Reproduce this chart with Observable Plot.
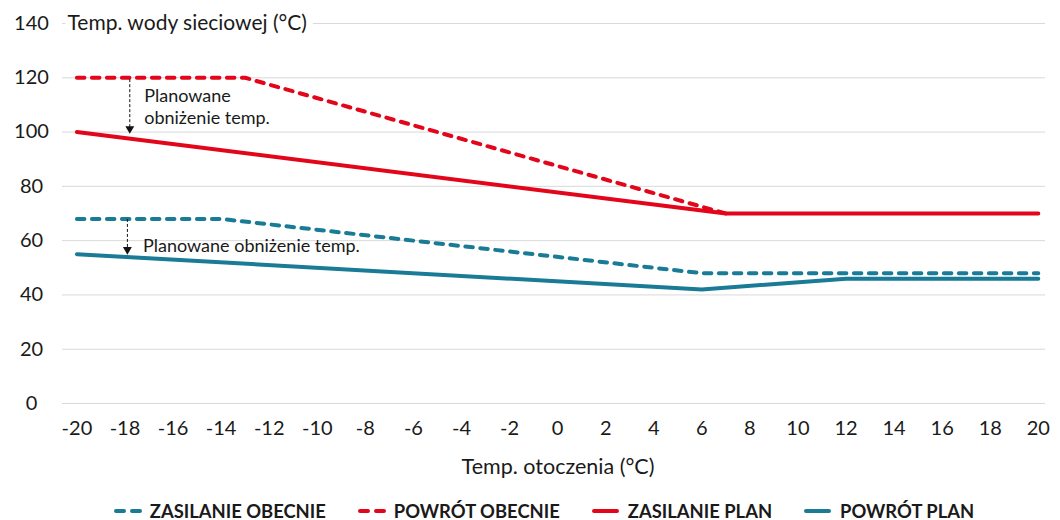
<!DOCTYPE html>
<html lang="pl">
<head>
<meta charset="utf-8">
<script src="https://cdn.jsdelivr.net/npm/d3@7"></script>
<script src="https://cdn.jsdelivr.net/npm/@observablehq/plot@0.6"></script>
<style>
  html, body { margin: 0; padding: 0; background: #fff; }
  body { width: 1060px; height: 520px; overflow: hidden; font-family: Lato, "Noto Sans", sans-serif; }
  #legend { display: flex; justify-content: center; align-items: center; gap: 32px;
            height: 30px; padding-left: 28px; padding-top: 6px;
            font-weight: 700; font-size: 18.4px; color: #1a1a1a; }
  #legend .item { display: flex; align-items: center; gap: 8px; }
  #legend svg { display: block; }
</style>
</head>
<body>
<div id="chart"></div>
<div id="legend"></div>
<script>
// Outdoor temperature ticks (°C) and network water temperature ticks (°C)
const xTicks = [-20, -18, -16, -14, -12, -10, -8, -6, -4, -2, 0, 2, 4, 6, 8, 10, 12, 14, 16, 18, 20];
const yTicks = [0, 20, 40, 60, 80, 100, 120, 140];

// Series names
const seriesNames = ["ZASILANIE OBECNIE", "POWRÓT OBECNIE", "ZASILANIE PLAN", "POWRÓT PLAN"];

// Break points of each heating curve: outdoor temp -> water temp
const zasilanieObecnieT = [-20, -14, 6, 20];
const zasilanieObecnieV = [68, 68, 48, 48];

const powrotObecnieT = [-20, -13, 7];
const powrotObecnieV = [120, 120, 70];

const zasilaniePlanT = [-20, 7, 20];
const zasilaniePlanV = [100, 70, 70];

const powrotPlanT = [-20, 6, 12, 20];
const powrotPlanV = [55, 42, 46, 46];

// Annotations: planned temperature reduction arrows
const noteText = ["Planowane\nobniżenie temp.", "Planowane obniżenie temp."];
const noteArrowT = [-17.8, -17.9];
const noteFrom = [119.5, 68];
const noteTo = [100.5, 56];
const noteTextT = [-17.2, -17.25];
const noteTextV = [109.5, 58.5];

// Appearance of each series
const RED = "#e3061b";
const TEAL = "#197b96";
const styles = {
  "ZASILANIE OBECNIE": {color: TEAL, dash: "7.5,7.5"},
  "POWRÓT OBECNIE":    {color: RED,  dash: "7.5,7.5"},
  "ZASILANIE PLAN":    {color: RED,  dash: null},
  "POWRÓT PLAN":       {color: TEAL, dash: null}
};

const pairs = [
  [zasilanieObecnieT, zasilanieObecnieV],
  [powrotObecnieT, powrotObecnieV],
  [zasilaniePlanT, zasilaniePlanV],
  [powrotPlanT, powrotPlanV]
];
const rows = seriesNames.map((name, i) =>
  pairs[i][0].map((t, j) => ({series: name, t, v: pairs[i][1][j]})));

const notes = noteText.map((text, i) => ({
  text, t: noteArrowT[i], from: noteFrom[i], to: noteTo[i], tt: noteTextT[i], tv: noteTextV[i]
}));

const lineMarks = rows.map((data, i) => {
  const s = styles[seriesNames[i]];
  return Plot.line(data, {
    x: "t", y: "v",
    stroke: s.color, strokeWidth: 4,
    strokeDasharray: s.dash || undefined,
    strokeLinecap: "round", strokeLinejoin: "round"
  });
});

const chart = Plot.plot({
  width: 1060,
  height: 490,
  marginLeft: 62,
  marginRight: 15,
  marginTop: 23,
  marginBottom: 87,
  style: {fontFamily: "Lato, 'Noto Sans', sans-serif", fontSize: "20px", color: "#1a1a1a", background: "#fff"},
  x: {domain: [-20.6, 20.3]},
  y: {domain: [0, 140]},
  marks: [
    Plot.ruleY(yTicks, {stroke: "#d9d9d9", strokeWidth: 1}),
    Plot.axisY(yTicks, {tickSize: 0, tickPadding: 31, textAnchor: "middle", label: null, fontSize: 20}),
    Plot.axisX(xTicks, {tickSize: 0, tickPadding: 17, label: null, fontSize: 20, tickFormat: d => String(d)}),
    // y-axis title sitting on the top grid line
    Plot.text(["Temp. wody sieciowej (°C)"], {
      x: -20.6, y: 140, text: d => d, textAnchor: "start", dx: 5,
      fontSize: 21, fill: "#1a1a1a", stroke: "white", strokeWidth: 14, paintOrder: "stroke"
    }),
    ...lineMarks,
    // dashed reduction arrows
    Plot.link(notes, {
      x1: "t", x2: "t", y1: "from", y2: "to",
      stroke: "#111", strokeWidth: 1, strokeDasharray: "3,2"
    }),
    Plot.dot(notes, {
      x: "t", y: "to", symbol: "triangle", rotate: 180, r: 3.3, fill: "#111", dy: -2
    }),
    Plot.text(notes, {
      x: "tt", y: "tv", text: "text", textAnchor: "start", lineAnchor: "middle",
      fontSize: 18, lineHeight: 1.2, fill: "#1a1a1a"
    }),
    // x-axis title
    Plot.text(["Temp. otoczenia (°C)"], {
      frameAnchor: "bottom", text: d => d, dy: 64, dx: 4, lineAnchor: "middle",
      fontSize: 21.5, fill: "#1a1a1a"
    })
  ]
});
document.getElementById("chart").append(chart);

// Legend below the chart
const legend = d3.select("#legend");
seriesNames.forEach(name => {
  const s = styles[name];
  const item = legend.append("div").attr("class", "item");
  const sw = item.append("svg").attr("width", 28).attr("height", 8);
  if (s.dash) {
    sw.append("line").attr("x1", 2).attr("x2", 26).attr("y1", 4).attr("y2", 4)
      .attr("stroke", s.color).attr("stroke-width", 4).attr("stroke-linecap", "round")
      .attr("stroke-dasharray", "8,8");
  } else {
    sw.append("line").attr("x1", 2).attr("x2", 25).attr("y1", 4).attr("y2", 4)
      .attr("stroke", s.color).attr("stroke-width", 4).attr("stroke-linecap", "round");
  }
  item.append("span").text(name);
});
</script>
</body>
</html>
